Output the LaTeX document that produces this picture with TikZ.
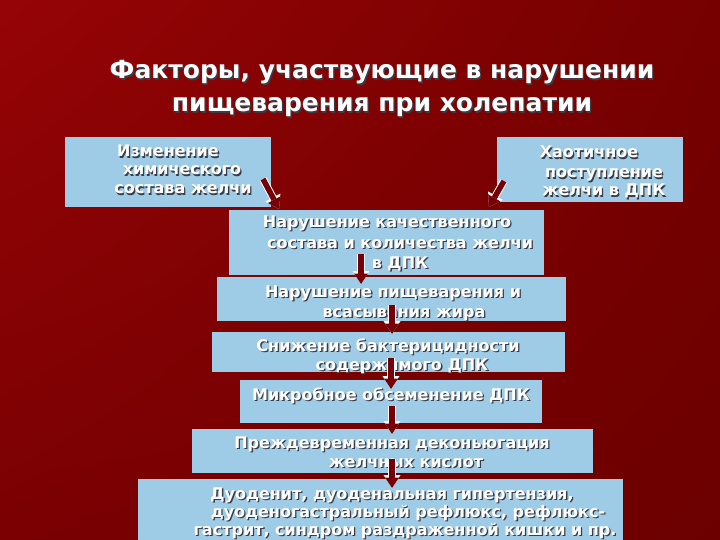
\documentclass[tikz,border=0pt]{standalone}
\usepackage{fontspec}
\setmainfont{DejaVu Sans}
\usetikzlibrary{arrows.meta,shadings}
\definecolor{bgA}{RGB}{150,4,6}
\definecolor{bgB}{RGB}{118,0,0}
\definecolor{bgC}{RGB}{122,0,2}
\definecolor{bgD}{RGB}{108,0,0}
\definecolor{boxblue}{RGB}{158,203,229}
\definecolor{arrowred}{RGB}{118,0,8}
\definecolor{shadowgray}{RGB}{60,60,70}
\newcommand\shd[1]{\makebox[0pt][l]{\kern1.3pt\raisebox{-1.3pt}{\textcolor{shadowgray}{#1}}}#1}
\tikzset{
  box/.style={fill=boxblue, draw=none, inner sep=0pt},
  ttl/.style={anchor=base, text=white, font=\bfseries\fontsize{25}{30}\selectfont, inner sep=0pt},
  txt/.style={anchor=base, text=white, font=\bfseries\fontsize{16}{19}\selectfont, inner sep=0pt},
  arr/.style={preaction={draw=white, line width=7.5pt, -{Triangle[width=17pt,length=13pt,line width=0pt]}},
              draw=arrowred, line width=5.5pt, -{Triangle[width=14pt,length=10.5pt,line width=0pt]}}
}
\begin{document}
\begin{tikzpicture}[x=1pt,y=-1pt]
\useasboundingbox (0,0) rectangle (720,540);
\shade[upper left=bgA, upper right=bgB, lower left=bgC, lower right=bgD] (0,0) rectangle (720,540);

% title
\node[ttl] (title1) at (382,79) {\shd{Факторы, участвующие в нарушении}};
\node[ttl] (title2) at (382,112) {\shd{пищеварения при холепатии}};

% boxes
\path[box] (65,137) rectangle (271,207) node[midway] (b1) {};
\path[box] (497,137) rectangle (683,202) node[midway] (b2) {};
\path[box] (229,210) rectangle (544,275) node[midway] (b3) {};
\path[box] (217,277) rectangle (566,321) node[midway] (b4) {};
\path[box] (212,332) rectangle (565,372) node[midway] (b5) {};
\path[box] (240,380) rectangle (542,423) node[midway] (b6) {};
\path[box] (192,429) rectangle (593,473) node[midway] (b7) {};
\path[box] (138,479) rectangle (623,545) node[midway] (b8) {};

% texts
\node[txt] (t1a) at (168,157) {\shd{Изменение}};
\node[txt] (t1b) at (182,175) {\shd{химического}};
\node[txt] (t1c) at (183,194) {\shd{состава желчи}};

\node[txt] (t2a) at (589,158) {\shd{Хаотичное}};
\node[txt] (t2b) at (604,178) {\shd{поступление}};
\node[txt] (t2c) at (604,196) {\shd{желчи в ДПК}};

\node[txt] (t3a) at (387,227) {\shd{Нарушение качественного}};
\node[txt] (t3b) at (400,248) {\shd{состава и количества желчи}};
\node[txt] (t3c) at (400,268) {\shd{в ДПК}};

\node[txt] (t4a) at (393,297) {\shd{Нарушение пищеварения и}};
\node[txt] (t4b) at (404,317) {\shd{всасывания жира}};

\node[txt] (t5a) at (388,351) {\shd{Снижение бактерицидности}};
\node[txt] (t5b) at (402,370) {\shd{содержимого ДПК}};

\node[txt] (t6a) at (391,400) {\shd{Микробное обсеменение ДПК}};

\node[txt] (t7a) at (392,448) {\shd{Преждевременная деконьюгация}};
\node[txt] (t7b) at (406,467) {\shd{желчных кислот}};

\node[txt] (t8a) at (392,499) {\shd{Дуоденит, дуоденальная гипертензия,}};
\node[txt] (t8b) at (408,517) {\shd{дуоденогастральный рефлюкс, рефлюкс-}};
\node[txt] (t8c) at (405,535) {\shd{гастрит, синдром раздраженной кишки и пр.}};

% arrow end points
\coordinate (a1s) at (263,179); \coordinate (a1e) at (279,209);
\coordinate (a2s) at (504,181); \coordinate (a2e) at (489,207);
\coordinate (a3s) at (361,254); \coordinate (a3e) at (361,284);
\coordinate (a4s) at (392,305); \coordinate (a4e) at (392,334);
\coordinate (a5s) at (391,358); \coordinate (a5e) at (391,389);
\coordinate (a6s) at (392,406); \coordinate (a6e) at (392,434);
\coordinate (a7s) at (392,459); \coordinate (a7e) at (392,488);

\draw[arr] (a1s) -- (a1e);
\draw[arr] (a2s) -- (a2e);
\draw[arr] (a3s) -- (a3e);
\draw[arr] (a4s) -- (a4e);
\draw[arr] (a5s) -- (a5e);
\draw[arr] (a6s) -- (a6e);
\draw[arr] (a7s) -- (a7e);
\end{tikzpicture}
\end{document}
